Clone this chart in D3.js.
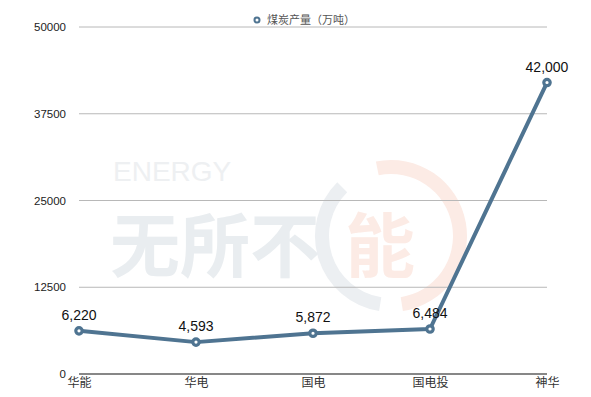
<!DOCTYPE html>
<html>
<head>
<meta charset="utf-8">
<script src="https://cdn.jsdelivr.net/npm/d3@7"></script>
<style>
  body { margin: 0; background: #fff; }
  svg { display: block; font-family: "Liberation Sans", Arial, "Noto Sans CJK SC", sans-serif; }
</style>
</head>
<body>
<div id="chart"></div>
<script>
const categories = ["华能", "华电", "国电", "国电投", "神华"];
const values = [6220, 4593, 5872, 6484, 42000];
const yTicks = [0, 12500, 25000, 37500, 50000];
const seriesName = "煤炭产量（万吨）";

const width = 591, height = 397;
const margin = {top: 27, right: 44, bottom: 23, left: 79};
const color = "#4f7491";

const svg = d3.select("#chart").append("svg")
    .attr("width", width)
    .attr("height", height);

const x = d3.scalePoint().domain(categories).range([margin.left, width - margin.right]).padding(0);
const y = d3.scaleLinear().domain([0, 50000]).range([height - margin.bottom, margin.top]);

// watermark (faint logo behind the plot)
const wm = svg.append("g").attr("pointer-events", "none");
wm.append("path")
    .attr("transform", "translate(391,236)")
    .attr("d", d3.arc().innerRadius(62).outerRadius(76).startAngle(-0.2).endAngle(Math.PI * 0.95)())
    .attr("fill", "#fcebe5");
wm.append("path")
    .attr("transform", "translate(391,236)")
    .attr("d", d3.arc().innerRadius(62).outerRadius(76).startAngle(Math.PI * 1.05).endAngle(Math.PI * 1.75)())
    .attr("fill", "#eceff2");
wm.append("text").attr("x", 113).attr("y", 181)
    .attr("font-size", 28).attr("fill", "#eef0f2").text("ENERGY");
wm.append("text").attr("x", 110).attr("y", 272)
    .attr("font-size", 70).attr("font-weight", "bold").attr("fill", "#e9edf0")
    .attr("font-family", "Noto Sans CJK SC").text("无所不");
wm.append("text").attr("x", 345).attr("y", 272)
    .attr("font-size", 70).attr("font-weight", "bold").attr("fill", "#fcebe5")
    .attr("font-family", "Noto Sans CJK SC").text("能");

// gridlines
svg.append("g")
    .selectAll("line")
    .data(yTicks.filter(d => d > 0))
    .join("line")
    .attr("x1", margin.left).attr("x2", width - margin.right)
    .attr("y1", d => y(d)).attr("y2", d => y(d))
    .attr("stroke", "#b8b8b8").attr("stroke-width", 1);

// y axis labels
const yAxis = svg.append("g")
    .attr("transform", `translate(${margin.left - 13},0)`)
    .call(d3.axisLeft(y).tickValues(yTicks).tickSize(0).tickPadding(0).tickFormat(d3.format("d")));
yAxis.select(".domain").remove();
yAxis.selectAll("text").attr("font-size", 11.5).attr("fill", "#222").attr("font-family", "Liberation Sans, Arial");

// baseline
svg.append("line")
    .attr("x1", margin.left).attr("x2", width - margin.right)
    .attr("y1", y(0)).attr("y2", y(0))
    .attr("stroke", "#111").attr("stroke-width", 1.2);

// x axis labels
const xAxis = svg.append("g")
    .attr("transform", `translate(0,${y(0)})`)
    .call(d3.axisBottom(x).tickSize(0).tickPadding(4));
xAxis.select(".domain").remove();
xAxis.selectAll("text").attr("font-size", 12).attr("fill", "#333").attr("font-family", "Noto Sans CJK SC");

// line
const data = categories.map((c, i) => ({cat: c, value: values[i]}));
svg.append("path")
    .datum(data)
    .attr("fill", "none")
    .attr("stroke", color)
    .attr("stroke-width", 4)
    .attr("stroke-linejoin", "round")
    .attr("d", d3.line().x(d => x(d.cat)).y(d => y(d.value)));

// markers
svg.append("g").selectAll("circle")
    .data(data)
    .join("circle")
    .attr("cx", d => x(d.cat)).attr("cy", d => y(d.value))
    .attr("r", 3.2)
    .attr("fill", "#fff")
    .attr("stroke", color)
    .attr("stroke-width", 3.2);

// value labels
svg.append("g").selectAll("text")
    .data(data)
    .join("text")
    .attr("x", d => x(d.cat)).attr("y", d => y(d.value) - 11)
    .attr("text-anchor", "middle")
    .attr("font-size", 14)
    .attr("fill", "#111")
    .text(d => d3.format(",")(d.value));

// legend
const legend = svg.append("g").attr("transform", "translate(257,20)");
legend.append("circle").attr("r", 2.5).attr("fill", "#fff").attr("stroke", color).attr("stroke-width", 2);
legend.append("text").attr("x", 10).attr("y", 4)
    .attr("font-size", 11).attr("fill", "#555").attr("font-family", "Noto Sans CJK SC")
    .text(seriesName);
</script>
</body>
</html>
